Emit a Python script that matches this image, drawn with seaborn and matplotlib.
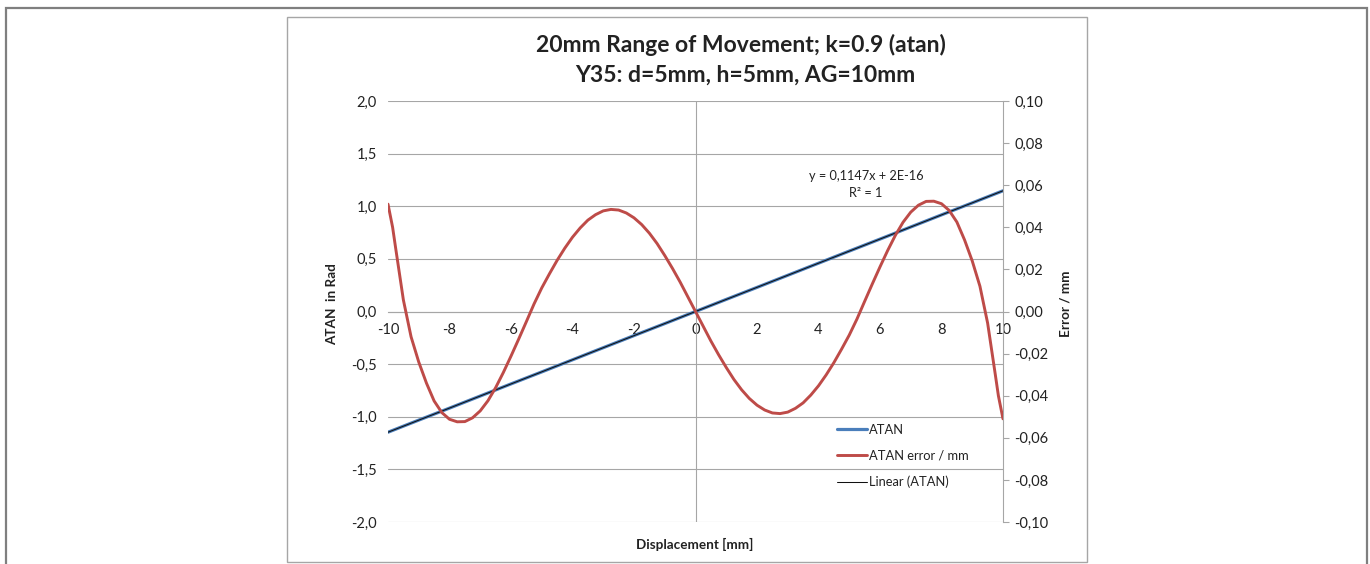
import matplotlib
matplotlib.use("Agg")
import matplotlib.pyplot as plt
import seaborn as sns
import numpy as np
import pandas as pd
from matplotlib.patches import Rectangle
from matplotlib.lines import Line2D
from matplotlib.ticker import FuncFormatter, MultipleLocator

# ---------------- data ----------------
atan_x = [-10, -9, -8, -7, -6, -5, -4, -3, -2, -1, 0,
          1, 2, 3, 4, 5, 6, 7, 8, 9, 10]
atan_y = [-1.147, -1.032, -0.918, -0.803, -0.688, -0.574, -0.459, -0.344, -0.229, -0.115, 0.0,
          0.115, 0.229, 0.344, 0.459, 0.574, 0.688, 0.803, 0.918, 1.032, 1.147]

err_x = [-10.0, -9.85, -9.75, -9.5, -9.25, -9.0, -8.75, -8.5, -8.25, -8.0, -7.75, -7.5, -7.25,
         -7.0, -6.75, -6.5, -6.25, -6.0, -5.75, -5.5, -5.25, -5.0, -4.75, -4.5, -4.25,
         -4.0, -3.75, -3.5, -3.25, -3.0, -2.75, -2.5, -2.25, -2.0, -1.75, -1.5, -1.25,
         -1.0, -0.75, -0.5, -0.25, 0.0,
         0.25, 0.5, 0.75, 1.0, 1.25, 1.5, 1.75, 2.0, 2.25, 2.5, 2.75, 3.0, 3.25, 3.5,
         3.75, 4.0, 4.25, 4.5, 4.75, 5.0, 5.25, 5.5, 5.75, 6.0, 6.25, 6.5, 6.75, 7.0,
         7.25, 7.5, 7.75, 8.0, 8.25, 8.5, 8.75, 9.0, 9.25, 9.5, 9.75, 9.85, 10.0]
err_y = [0.051, 0.040, 0.030, 0.0055, -0.012, -0.024, -0.034, -0.0425, -0.048, -0.0512,
         -0.0524, -0.0523, -0.0505, -0.0472, -0.0424, -0.0362, -0.0290, -0.0212, -0.0131,
         -0.0048, 0.0036, 0.0112, 0.0179, 0.0243, 0.0301, 0.0353, 0.0397, 0.0434, 0.0460,
         0.0478, 0.0485, 0.0482, 0.0468, 0.0445, 0.0413, 0.0372, 0.0323, 0.0266, 0.0205,
         0.0140, 0.0070, 0.0,
         -0.0070, -0.0140, -0.0205, -0.0266, -0.0323, -0.0372, -0.0413, -0.0445, -0.0468,
         -0.0482, -0.0485, -0.0478, -0.0460, -0.0434, -0.0397, -0.0353, -0.0301, -0.0243,
         -0.0179, -0.0112, -0.0036, 0.0048, 0.0131, 0.0212, 0.0290, 0.0362, 0.0424, 0.0472,
         0.0505, 0.0523, 0.0524, 0.0512, 0.048, 0.0425, 0.034, 0.024, 0.012, -0.0055,
         -0.030, -0.040, -0.051]

title_lines = ["20mm Range of Movement; k=0.9 (atan)", "Y35: d=5mm, h=5mm, AG=10mm"]
x_ticks = [-10, -8, -6, -4, -2, 0, 2, 4, 6, 8, 10]
legend_labels = ["ATAN", "ATAN error / mm", "Linear (ATAN)"]
eq_text = ["y = 0,1147x + 2E-16", "R² = 1"]

# ---------------- style ----------------
sns.set_style("white")
plt.rcParams['font.family'] = ['Lato', 'DejaVu Sans']

BLUE = "#4A7EBB"
RED = "#BE4B48"
GRID = "#A6A6A6"
TXT = "#222222"

W, H = 1370, 564
fig = plt.figure(figsize=(W / 100, H / 100), dpi=100)
fig.subplots_adjust(left=388 / W, right=1003 / W, top=1 - 101 / H, bottom=1 - 522 / H)
ax = fig.add_subplot(111)
ax2 = ax.twinx()

df_atan = pd.DataFrame({"x": atan_x, "y": atan_y})
df_err = pd.DataFrame({"x": err_x, "e": err_y})

sns.lineplot(data=df_atan, x="x", y="y", ax=ax, color=BLUE, lw=2.3, sort=False,
             estimator=None, zorder=3)
sns.regplot(data=df_atan, x="x", y="y", ax=ax, scatter=False, ci=None, truncate=True,
            line_kws=dict(color="#111111", lw=0.75, zorder=4))
sns.lineplot(data=df_err, x="x", y="e", ax=ax2, color=RED, lw=2.1, sort=False,
             estimator=None, zorder=3)

ax.set_xlim(-10, 10)
ax.set_ylim(-2.0, 2.0)
ax2.set_ylim(-0.10, 0.10)

comma1 = FuncFormatter(lambda v, p: f"{v:.1f}".replace(".", ",").replace("-0,0", "0,0"))
comma2 = FuncFormatter(lambda v, p: f"{v:.2f}".replace(".", ",").replace("-0,00", "0,00"))
ax.yaxis.set_major_locator(MultipleLocator(0.5))
ax.yaxis.set_major_formatter(comma1)
ax2.yaxis.set_major_locator(MultipleLocator(0.02))
ax2.yaxis.set_major_formatter(comma2)
ax.set_xticks(x_ticks)
ax.set_xticklabels([str(t) for t in x_ticks])

# gridlines (horizontal only)
ax.grid(False)
ax2.grid(False)
for v in np.arange(-2.0, 2.01, 0.5):
    ax.axhline(v, color=GRID, lw=0.8, zorder=1)
ax.axvline(0, color=GRID, lw=0.8, zorder=1)

for s in ["top", "right", "left"]:
    ax.spines[s].set_visible(False)
ax.spines["bottom"].set_position(("data", 0))
ax.spines["bottom"].set_color(GRID)
ax.spines["bottom"].set_linewidth(0.8)
for s in ["top", "left", "bottom"]:
    ax2.spines[s].set_visible(False)
ax2.spines["right"].set_color(GRID)
ax2.spines["right"].set_linewidth(0.8)

ax.tick_params(axis="y", length=0, pad=8, labelsize=10.5, labelcolor=TXT)
ax.tick_params(axis="x", length=0, pad=8.5, labelsize=10.5, labelcolor=TXT)
ax2.tick_params(axis="y", length=4, width=0.8, color=GRID, pad=4, labelsize=10.5,
                labelcolor=TXT, direction="out")
ax.set_xlabel("")
ax.set_ylabel("")
ax2.set_ylabel("")

# titles & labels
fig.text(741 / W, 1 - 45 / H, title_lines[0], ha="center", va="center",
         fontsize=16.5, fontweight="bold", color=TXT)
fig.text(745 / W, 1 - 75 / H, title_lines[1], ha="center", va="center",
         fontsize=16.5, fontweight="bold", color=TXT)
fig.text(332 / W, 1 - 304 / H, "ATAN  in Rad", rotation=90, ha="center", va="center",
         fontsize=9.7, fontweight="bold", color=TXT)
fig.text(1066 / W, 1 - 304 / H, "Error / mm", rotation=90, ha="center", va="center",
         fontsize=9.7, fontweight="bold", color=TXT)
fig.text(695 / W, 1 - 544 / H, "Displacement [mm]", ha="center", va="center",
         fontsize=9.7, fontweight="bold", color=TXT)
fig.text(866 / W, 1 - 176 / H, eq_text[0], ha="center", va="center", fontsize=9.2, color=TXT)
fig.text(866 / W, 1 - 193 / H, eq_text[1], ha="center", va="center", fontsize=9.2, color=TXT)

# legend
handles = [Line2D([], [], color=BLUE, lw=2.3),
           Line2D([], [], color=RED, lw=2.1),
           Line2D([], [], color="#111111", lw=0.75)]
leg = ax2.legend(handles, legend_labels, loc="upper left",
                 bbox_to_anchor=(837 / W, 1 - 424 / H), bbox_transform=fig.transFigure,
                 frameon=False, fontsize=9.3, borderpad=0, borderaxespad=0,
                 handlelength=2.3, handletextpad=0.15, labelspacing=1.08)
for t in leg.get_texts():
    t.set_color(TXT)

# frames
fig.patches.append(Rectangle((6 / W, -0.01), 1361 / W, 1 - 8 / H + 0.01,
                             transform=fig.transFigure, fill=False,
                             edgecolor="#7F7F7F", lw=1.6))
fig.patches.append(Rectangle((287 / W, 1 - 562 / H), 800 / W, (562 - 17) / H,
                             transform=fig.transFigure, fill=False,
                             edgecolor="#A6A6A6", lw=1.0))

fig.savefig("out.png", dpi=100)
